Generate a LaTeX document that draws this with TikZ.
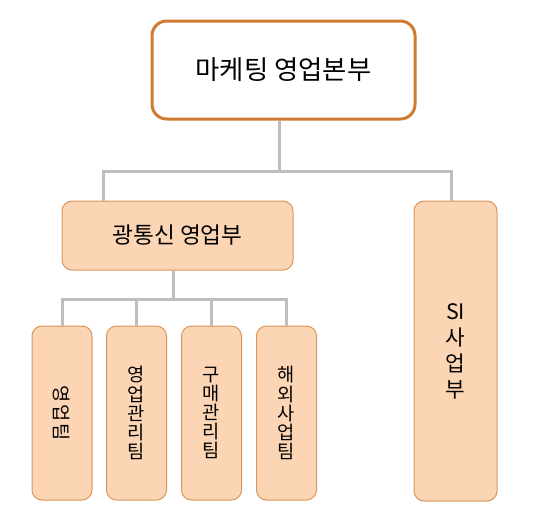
\documentclass[tikz,border=0pt]{standalone}
\usepackage{fontspec}
\setmainfont{Noto Sans CJK KR}
\definecolor{topborder}{HTML}{D07C30}
\definecolor{peach}{HTML}{FCD5B5}
\definecolor{peachborder}{HTML}{D9965C}
\definecolor{conngray}{HTML}{BEBEBE}
\tikzset{
  topbox/.style={draw=topborder, line width=2.25pt, fill=white, rounded corners=11pt, inner sep=0pt},
  peachbox/.style={draw=peachborder, line width=0.75pt, fill=peach, rounded corners=7.5pt, inner sep=0pt},
  teamfont/.style={font=\fontsize{14}{14.3}\selectfont},
  teambox/.style={peachbox, minimum width=45pt, minimum height=130.5pt, align=center, teamfont},
  conn/.style={draw=conngray, line width=2.25pt},
}
\begin{document}
\begin{tikzpicture}[x=0.75pt, y=-0.75pt]
\useasboundingbox (0,0) rectangle (551,519);
\coordinate (j1) at (279,171);
\coordinate (jl) at (103,171);
\coordinate (jr) at (451,171);
\coordinate (j2) at (173,299);
\node[topbox, minimum width=197.25pt, minimum height=73.5pt, font=\fontsize{19.8}{22}\selectfont] (top) at (283.5,70) {마케팅 영업본부};
\node[peachbox, minimum width=173.25pt, minimum height=51.75pt, font=\fontsize{17}{20}\selectfont] (mid) at (177.5,235.5) {광통신 영업부};
\node[peachbox, minimum width=62.25pt, minimum height=225pt, align=center, font=\fontsize{16}{19.5}\selectfont] (si) at (455.5,351) {SI\\사\\업\\부};
\node[teambox] (t1) at (62,413) {};
\node[rotate=-90, teamfont, inner sep=0pt] (t1txt) at (t1.center) {영\hspace{1.5pt}업\hspace{1.5pt}팀};
\node[teambox] (t2) at (136.5,413) {영\\업\\관\\리\\팀};
\node[teambox] (t3) at (211.5,413) {구\\매\\관\\리\\팀};
\node[teambox] (t4) at (286.5,413) {해\\외\\사\\업\\팀};
\draw[conn] (top.south -| j1) -- (j1);
\draw[conn] (jl |- mid.north) -- (jl) -- (jr) -- (jr |- si.north);
\draw[conn] (mid.south -| j2) -- (j2);
\draw[conn] (t1.north) -- (t1.north |- j2) -- (t4.north |- j2) -- (t4.north);
\draw[conn] (t2.north |- j2) -- (t2.north);
\draw[conn] (t3.north |- j2) -- (t3.north);
\end{tikzpicture}
\end{document}
